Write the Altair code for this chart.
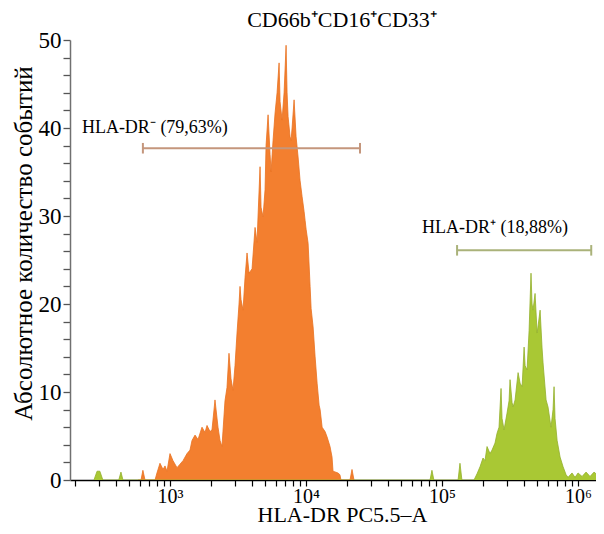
import altair as alt
import pandas as pd

FONT = "Liberation Serif"

# HLA-DR negative population (orange) : fluorescence value, event count
orange_x = [582, 612, 632, 655, 776, 802, 844, 889, 919, 951, 1000, 1052, 1126, 1185, 1247, 1334,
            1403, 1452, 1528, 1607, 1719, 1809, 1871, 1968, 2036, 2142, 2254, 2332, 2411, 2537,
            2624, 2715, 2809, 2906, 3006, 3110, 3217, 3272, 3328, 3443, 3562, 3685, 3812, 4011,
            4220, 4366, 4440, 4593, 4671, 4832, 4999, 5084, 5260, 5441, 5534, 5725, 5922, 6126,
            6338, 6446, 6668, 6898, 7136, 7257, 7381, 7636, 7766, 7899, 8171, 8453, 8744, 9046,
            9358, 9681, 9846, 10014, 10359, 10716, 10899, 11275, 11664, 12066, 12482, 12695,
            13133, 13807, 14283, 15016, 15534, 15794, 17169, 17761, 18070, 21055, 21781, 22532]
orange_y = [0, 0, 1.1, 0, 0, 0.8, 1.9, 1.2, 1.6, 1.0, 3.0, 2.2, 1.4, 1.8, 2.2, 3.0,
            3.4, 4.5, 5.1, 4.6, 6.0, 5.4, 6.2, 5.5, 5.7, 9.1, 6.0, 4.5, 3.8, 9.0,
            10.5, 14.4, 11.5, 10.2, 13.0, 16.7, 20.0, 22.0, 20.5, 19.3, 23.0, 25.8, 23.5, 24.0,
            28.7, 27.0, 30.0, 35.6, 31.0, 29.9, 33.0, 38.0, 41.5, 37.0, 35.0, 38.6, 41.7, 44.0,
            47.4, 43.0, 40.9, 44.0, 49.4, 44.0, 41.3, 39.0, 38.6, 40.0, 43.2, 39.0, 36.7, 34.0,
            32.2, 30.5, 29.5, 28.5, 26.9, 22.0, 19.5, 17.4, 14.0, 11.0, 8.5, 8.0,
            6.0, 5.5, 4.9, 3.8, 2.6, 1.0, 0.8, 0.6, 0, 0, 1.2, 0]

# HLA-DR positive population (green)
green_x = [276, 291, 305, 321, 420, 436, 451, 81600, 84300, 87100, 131200, 135500, 140000,
           171800, 180800, 190200, 200100, 207000, 214200, 225300, 233100, 245200, 253700,
           262500, 271500, 276200, 285700, 300600, 311000, 316200, 327300, 332900, 344400,
           362300, 374900, 387800, 401200, 408000, 421900, 436600, 451000, 459000, 466700,
           483000, 500000, 508400, 526000, 543700, 553000, 582000, 601500, 632600, 654700,
           666200, 677400, 701500, 737800, 776300, 816500, 844200, 903000, 950000, 1000000,
           1070000, 1145000, 1225000, 1311000, 1403000, 1553000]
green_y = [0, 1.0, 1.0, 0, 0, 0.9, 0, 0, 1.1, 0, 0, 1.9, 0,
           0, 0.7, 1.5, 2.5, 2.2, 3.8, 3.0, 3.4, 4.2, 5.3,
           6.0, 10.4, 7.0, 5.7, 7.6, 9.0, 11.4, 8.8, 8.3, 9.1,
           12.2, 11.0, 10.6, 15.1, 13.0, 12.5, 17.0, 23.5, 20.0, 19.3,
           21.2, 16.7, 17.5, 19.3, 15.0, 13.3, 9.1, 8.3, 6.0, 8.0,
           10.6, 7.0, 4.5, 2.6, 1.5, 0.6, 0.3, 0.8, 0.3, 0.8,
           0.4, 0.9, 0.4, 0.9, 0.5, 0.7]

# gates
gate_labels = ["HLA-DR\u207b (79,63%)", "HLA-DR\u207a (18,88%)"]
gate_lo = [632, 129000]
gate_hi = [24950, 1250000]
gate_y = [37.7, 26.1]
label_x = [225, 71300]
label_y = [40.0, 28.6]
gate_colors = ["#c4967c", "#aab27a"]

chart_title = ["CD66b\u207aCD16\u207aCD33\u207a"]

x_tick_values = [200, 300, 400, 500, 600, 700, 800, 900,
                 1000, 2000, 3000, 4000, 5000, 6000, 7000, 8000, 9000,
                 10000, 20000, 30000, 40000, 50000, 60000, 70000, 80000, 90000,
                 100000, 200000, 300000, 400000, 500000, 600000, 700000, 800000, 900000,
                 1000000]
y_tick_values = list(range(0, 51, 2))

orange_df = pd.DataFrame({"x": orange_x, "y": orange_y})
green_df = pd.DataFrame({"x": green_x, "y": green_y})
gate_df = pd.DataFrame({"label": gate_labels, "lo": gate_lo, "hi": gate_hi, "y": gate_y,
                        "lx": label_x, "ly": label_y, "c": gate_colors})
gate_df["ylo"] = gate_df["y"] - 0.6
gate_df["yhi"] = gate_df["y"] + 0.6
title_df = pd.DataFrame({"t": chart_title})

xscale = alt.Scale(type="log", domain=[184, 1355000], nice=False)
yscale = alt.Scale(domain=[0, 50], nice=False)

x_axis = alt.Axis(
    values=x_tick_values,
    labelExpr="datum.value == 1000 ? '10\u00b3' : datum.value == 10000 ? '10\u2074' : "
              "datum.value == 100000 ? '10\u2075' : datum.value == 1000000 ? '10\u2076' : ''",
    title="HLA-DR PC5.5\u2013A", titleX=272, titleY=34,
)
y_axis = alt.Axis(
    values=y_tick_values,
    labelExpr="datum.value % 10 == 0 ? datum.label : ''",
    title="Абсолютное количество событий", titleX=-47, titleY=203, titleAngle=270,
)


def X(field):
    return alt.X(f"{field}:Q", scale=xscale, axis=x_axis)


def Y(field):
    return alt.Y(f"{field}:Q", scale=yscale, axis=y_axis)


orange = alt.Chart(orange_df).mark_area(
    color="#f37f2f", opacity=1, interpolate="linear", clip=True,
    line={"color": "#e8711f", "strokeWidth": 0.8},
).encode(x=X("x"), y=Y("y"))

green = alt.Chart(green_df).mark_area(
    color="#a9c834", opacity=1, interpolate="linear", clip=True,
    line={"color": "#93b02c", "strokeWidth": 0.8},
).encode(x=X("x"), y=Y("y"))

gate_lines = alt.Chart(gate_df).mark_rule(strokeWidth=2).encode(
    x=X("lo"), x2="hi:Q", y=Y("y"),
    color=alt.Color("c:N", scale=None),
)
cap_lo = alt.Chart(gate_df).mark_rule(strokeWidth=2).encode(
    x=X("lo"), y=Y("ylo"), y2="yhi:Q",
    color=alt.Color("c:N", scale=None),
)
cap_hi = alt.Chart(gate_df).mark_rule(strokeWidth=2).encode(
    x=X("hi"), y=Y("ylo"), y2="yhi:Q",
    color=alt.Color("c:N", scale=None),
)
labels = alt.Chart(gate_df).mark_text(
    align="left", baseline="middle", font=FONT, fontSize=18, color="#000000",
).encode(x=X("lx"), y=Y("ly"), text="label:N")

title_mark = alt.Chart(title_df).mark_text(
    align="center", baseline="alphabetic", font=FONT, fontSize=22, color="#000000",
).encode(x=alt.value(272), y=alt.value(-13), text="t:N")

chart = alt.layer(orange, green, gate_lines, cap_lo, cap_hi, labels, title_mark).properties(
    width=526, height=440,
    autosize=alt.AutoSizeParams(type="none"),
    padding={"left": 62, "top": 32, "right": 0, "bottom": 46},
    background="#ffffff",
).configure_view(
    stroke=None
).configure_axis(
    grid=False, ticks=True, labelOverlap=False, labelFlush=False,
    labelFont=FONT, labelColor="#000000", titleFont=FONT, titleColor="#000000",
    titleFontWeight="normal", titleBaseline="middle", titleAlign="center",
).configure_axisX(
    tickSize=6, tickColor="#000000", tickWidth=1.2, tickOpacity=1,
    domainColor="#000000", domainWidth=1.5,
    labelFontSize=20, labelPadding=0, titleFontSize=22,
).configure_axisY(
    tickSize=7, tickColor="#555555", tickWidth=1.3, tickOpacity=1,
    domainColor="#707070", domainWidth=1.5,
    labelFontSize=23, labelPadding=2, titleFontSize=25,
)

chart.save("out.html", embed_options={"renderer": "svg", "actions": False})
